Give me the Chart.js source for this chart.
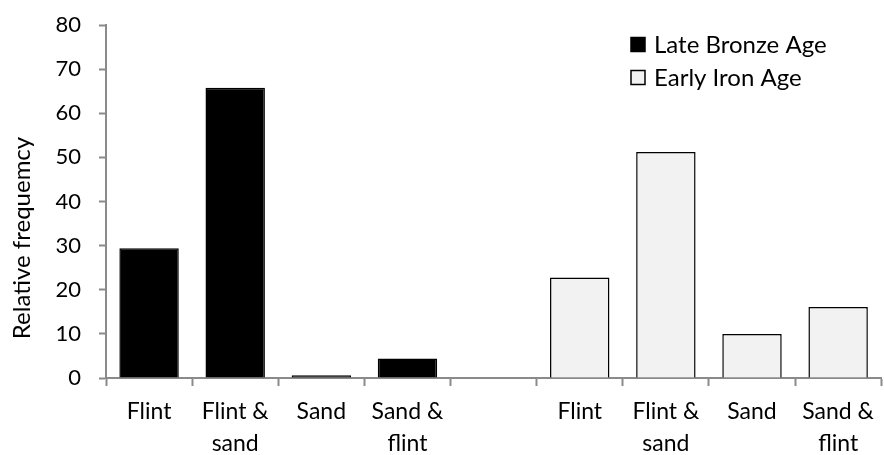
<!DOCTYPE html>
<html lang="en">
<head>
    <meta charset="UTF-8">
    <title>Relative frequency of fabric types</title>
    <script src="https://cdn.jsdelivr.net/npm/chart.js"></script>
    <style>
        body {
            margin: 0;
            background-color: white;
        }

        .wrap {
            width: 884px;
            height: 455px;
        }
    </style>
</head>
<body>
    <div class="wrap">
        <canvas id="fabricChart" width="884" height="455"></canvas>
    </div>

    <script>
        // Data
        const categories = [['Flint'], ['Flint &', 'sand'], ['Sand'], ['Sand &', 'flint'], '',
                            ['Flint'], ['Flint &', 'sand'], ['Sand'], ['Sand &', 'flint']];
        const lateBronzeAge = [29.4, 65.8, 0.6, 4.4, null, null, null, null, null];
        const earlyIronAge = [null, null, null, null, null, 22.8, 51.2, 10.0, 16.1];
        const yTicks = [0, 10, 20, 30, 40, 50, 60, 70, 80];

        const fontFamily = 'Lato, sans-serif';
        const axisGrey = '#8a8a8a';

        // y title and legend drawn inside the plot like the original
        const extrasPlugin = {
            id: 'extras',
            afterDraw(chart) {
                const ctx = chart.ctx;
                ctx.save();
                ctx.fillStyle = '#000';
                ctx.font = '24px ' + fontFamily;
                ctx.textAlign = 'center';
                ctx.textBaseline = 'middle';
                ctx.translate(22, 238);
                ctx.rotate(-Math.PI / 2);
                ctx.fillText('Relative frequemcy', 0, 0);
                ctx.restore();

                ctx.save();
                ctx.font = '24px ' + fontFamily;
                ctx.textAlign = 'left';
                ctx.textBaseline = 'middle';
                chart.data.datasets.forEach((ds, i) => {
                    const y = 44.5 + i * 33;
                    ctx.fillStyle = ds.backgroundColor;
                    ctx.fillRect(631, y - 7, 14, 14);
                    ctx.strokeStyle = '#000';
                    ctx.lineWidth = 1.5;
                    ctx.strokeRect(631, y - 7, 14, 14);
                    ctx.fillStyle = '#000';
                    ctx.fillText(ds.label, 654, y + 1);
                });
                ctx.restore();
            }
        };

        const ctx = document.getElementById('fabricChart').getContext('2d');
        new Chart(ctx, {
            type: 'bar',
            data: {
                labels: categories,
                datasets: [{
                    label: 'Late Bronze Age',
                    data: lateBronzeAge,
                    backgroundColor: '#000000',
                    borderColor: '#000000',
                    borderWidth: 1.5
                }, {
                    label: 'Early Iron Age',
                    data: earlyIronAge,
                    backgroundColor: '#f2f2f2',
                    borderColor: '#000000',
                    borderWidth: 1.5
                }]
            },
            options: {
                responsive: false,
                animation: false,
                grouped: false,
                categoryPercentage: 1,
                barPercentage: 0.69,
                layout: {
                    padding: { top: 25, right: 0, bottom: 0, left: 0 }
                },
                plugins: {
                    legend: { display: false },
                    tooltip: { enabled: false }
                },
                scales: {
                    x: {
                        afterFit: (scale) => { scale.height = 77; },
                        grid: {
                            offset: true,
                            drawOnChartArea: false,
                            tickLength: 8,
                            tickWidth: 2,
                            tickColor: axisGrey
                        },
                        border: { color: axisGrey, width: 2 },
                        ticks: {
                            color: '#000',
                            padding: 10,
                            maxRotation: 0,
                            autoSkip: false,
                            font: { family: fontFamily, size: 23, lineHeight: '32px' }
                        }
                    },
                    y: {
                        min: 0,
                        max: 80,
                        afterFit: (scale) => {
                            scale.width = 106;
                            scale.paddingTop = 0;
                        },
                        afterBuildTicks: (scale) => {
                            scale.ticks = yTicks.map(v => ({ value: v }));
                        },
                        grid: {
                            drawOnChartArea: false,
                            tickLength: 7,
                            tickWidth: 2,
                            tickColor: axisGrey
                        },
                        border: { color: axisGrey, width: 2 },
                        ticks: {
                            color: '#000',
                            padding: 18,
                            font: { family: fontFamily, size: 22 }
                        }
                    }
                }
            },
            plugins: [extrasPlugin]
        });
    </script>
</body>
</html>
